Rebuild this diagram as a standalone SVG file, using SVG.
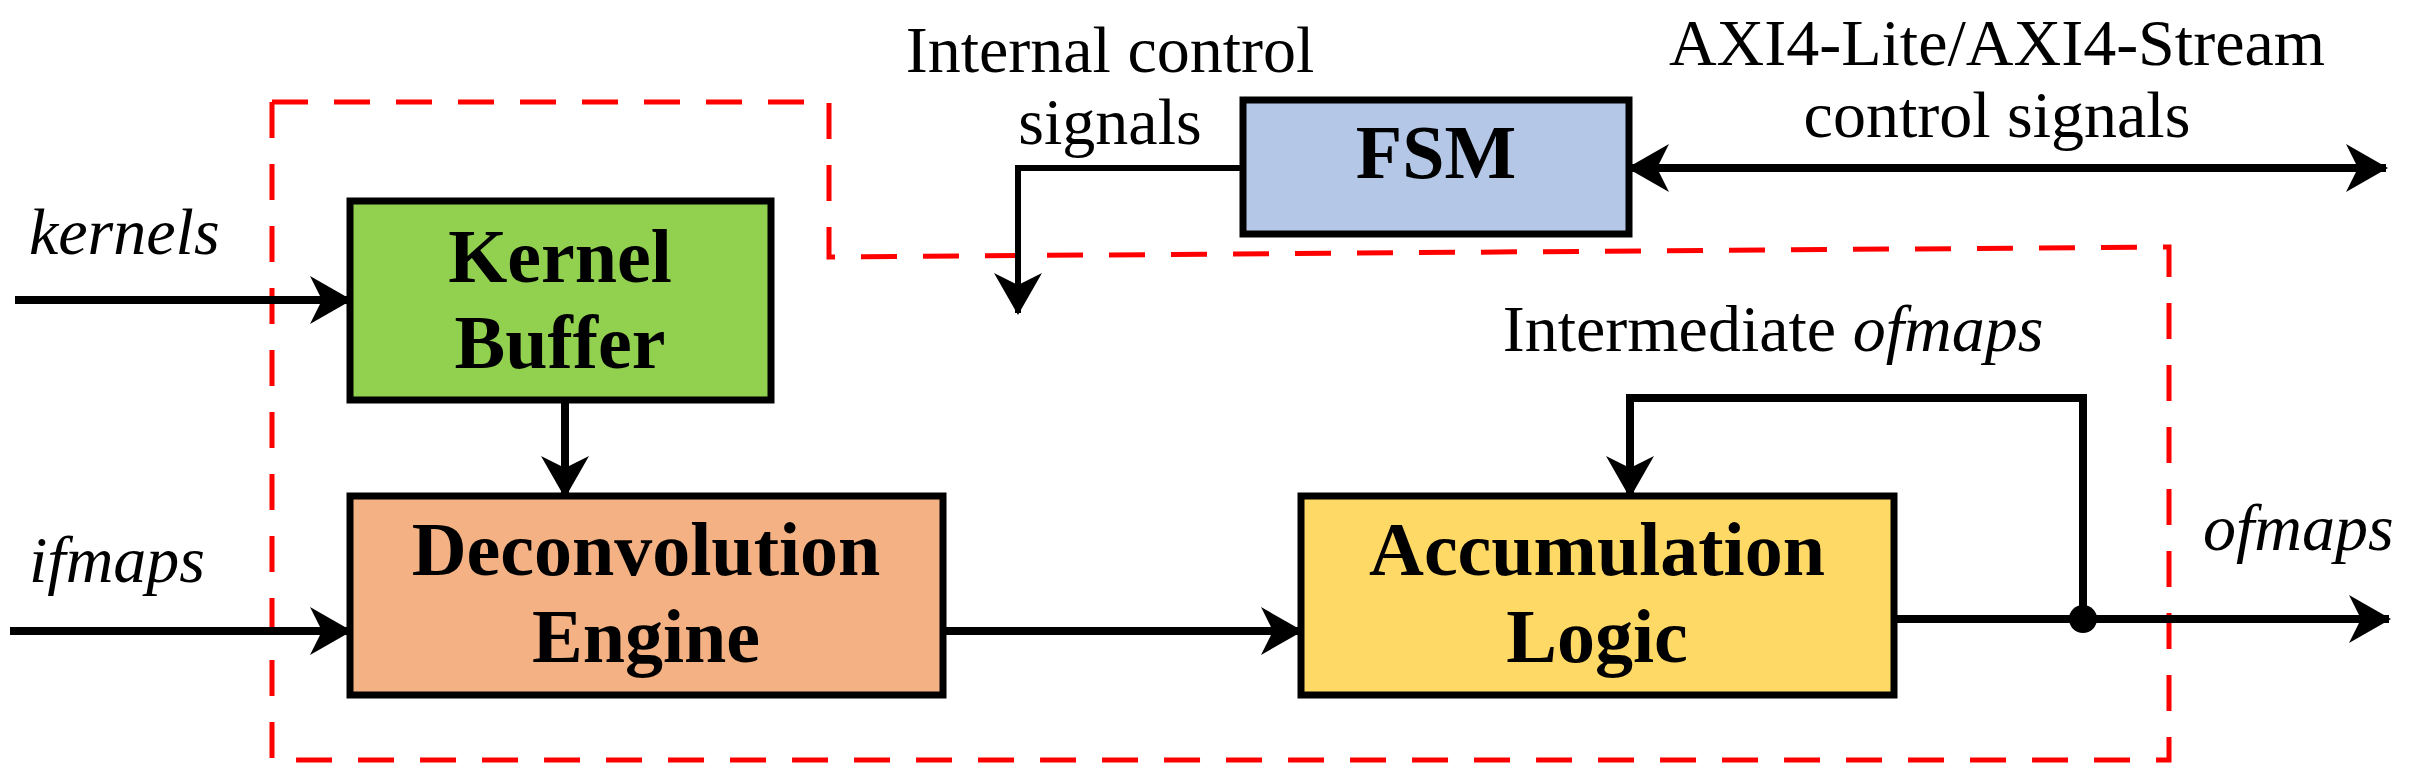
<svg xmlns="http://www.w3.org/2000/svg" width="2415" height="780" viewBox="0 0 2415 780">
<style>
.box{stroke:#000;stroke-width:7}
.lbl{font-family:"Liberation Serif","DejaVu Serif",serif;font-weight:bold;font-size:76px;text-anchor:middle}
.txt{font-family:"Liberation Serif","DejaVu Serif",serif;font-size:66px}
.it{font-style:italic}
.w{fill:none;stroke:#000;stroke-width:8}
</style>
<defs>
<marker id="ah" viewBox="0 0 42 48" refX="40" refY="24" markerWidth="42" markerHeight="48" markerUnits="userSpaceOnUse" orient="auto-start-reverse">
<path d="M0,0 L42,24 L0,48 L12,24 Z" fill="#000"/>
</marker>
</defs>
<rect width="2415" height="780" fill="#fff"/>
<path d="M272,102 H829 V257 L2169,247 V760 H272 Z" fill="none" stroke="#f00" stroke-width="5" stroke-dasharray="36,26"/>
<g id="connectors">
<line class="w" x1="15" y1="300" x2="350" y2="300" marker-end="url(#ah)"/>
<line class="w" x1="10" y1="631" x2="350" y2="631" marker-end="url(#ah)"/>
<line class="w" x1="565" y1="400" x2="565" y2="496" marker-end="url(#ah)"/>
<line class="w" x1="943" y1="631" x2="1301" y2="631" marker-end="url(#ah)"/>
<polyline class="w" style="stroke-width:6" points="1243,168 1018,168 1018,313" marker-end="url(#ah)"/>
<line class="w" x1="1629" y1="168" x2="2386" y2="168" marker-start="url(#ah)" marker-end="url(#ah)"/>
<line class="w" x1="1894" y1="619" x2="2389" y2="619" marker-end="url(#ah)"/>
<polyline class="w" points="2083,619 2083,398 1630,398 1630,496" marker-end="url(#ah)"/>
<circle cx="2083" cy="619" r="14" fill="#000"/>
</g>
<g id="kernel-buffer"><rect class="box" x="350" y="201" width="421" height="199" fill="#92d050"/><text class="lbl" x="560" y="282">Kernel</text><text class="lbl" x="560" y="368">Buffer</text></g>
<g id="deconv"><rect class="box" x="350" y="496" width="593" height="199" fill="#f4b183"/><text class="lbl" x="646" y="575">Deconvolution</text><text class="lbl" x="646" y="662">Engine</text></g>
<g id="fsm"><rect class="box" x="1243" y="100" width="386" height="134" fill="#b4c7e7"/><text class="lbl" x="1436" y="178">FSM</text></g>
<g id="accum"><rect class="box" x="1301" y="496" width="593" height="199" fill="#ffd966"/><text class="lbl" x="1597" y="575">Accumulation</text><text class="lbl" x="1597" y="662">Logic</text></g>
<g id="labels">
<text class="txt it" x="29" y="254">kernels</text>
<text class="txt it" x="29" y="582">ifmaps</text>
<text class="txt" x="1110" y="72" text-anchor="middle">Internal control</text>
<text class="txt" x="1110" y="144" text-anchor="middle">signals</text>
<text class="txt" x="1997" y="65" text-anchor="middle">AXI4-Lite/AXI4-Stream</text>
<text class="txt" x="1997" y="137" text-anchor="middle">control signals</text>
<text class="txt" x="1773" y="351" text-anchor="middle">Intermediate <tspan class="it">ofmaps</tspan></text>
<text class="txt it" x="2203" y="550">ofmaps</text>
</g>
</svg>
